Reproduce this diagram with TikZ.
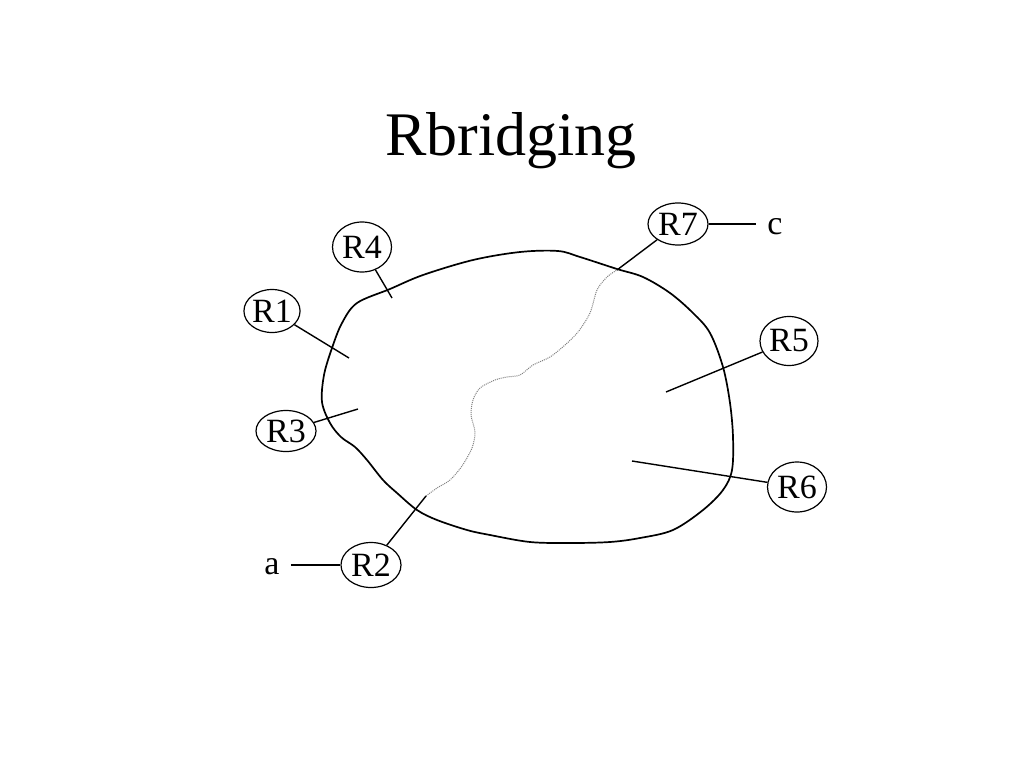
\documentclass[tikz,border=0pt]{standalone}
\usepackage{fontspec}
\setmainfont{Liberation Serif}
\usetikzlibrary{shapes.geometric}
\begin{document}
\begin{tikzpicture}[x=1pt,y=-1pt,
  router/.style={ellipse,draw,line width=1.2pt,inner sep=0pt,font=\fontsize{34}{38}\selectfont},
  endlabel/.style={inner xsep=11pt,inner ysep=0pt,font=\fontsize{34}{38}\selectfont},
  link/.style={line width=1.4pt},
  region/.style={line width=1.7pt},
  bridge/.style={gray,line width=1pt,dash pattern=on 1pt off 1pt}]
\useasboundingbox[fill=white] (0,0) rectangle (1024,768);
\node[anchor=base,font=\fontsize{62}{70}\selectfont] (title) at (511,155) {Rbridging};
% campus outline
\draw[region] plot[smooth cycle,tension=0.55] coordinates {
 (357,303) (390,289) (423,275) (473,260) (520,252) (558,251) (580,257)
 (617,269) (643,277) (670,293) (693,313) (710,333) (723,367) (730,403)
 (733,437) (732,470) (723,490) (703,510) (673,530) (640,538) (610,542)
 (570,543) (530,542) (490,535) (467,530) (437,520) (417,510) (397,493)
 (383,480) (367,460) (355,447) (341,437) (330,423) (322,402) (324,375)
 (332,348) (342,323)};
% bridging path
\draw[bridge] plot[smooth,tension=0.5] coordinates {
 (426,496) (437,488) (450,480) (462,466) (472,448) (475,432) (471,415)
 (473,400) (480,388) (495,380) (507,377) (520,375) (533,365) (550,357)
 (565,345) (578,332) (590,313) (597,290) (607,277) (617,270)};
% routers
\node[router,minimum width=59pt,minimum height=50pt] (R4) at (362,247) {R4};
\node[router,minimum width=51pt,minimum height=43pt] (R1) at (272,311) {R1};
\node[router,minimum width=60pt,minimum height=41pt] (R3) at (286,431) {R3};
\node[router,minimum width=60pt,minimum height=45pt] (R2) at (371,565) {R2};
\node[router,minimum width=60pt,minimum height=42pt] (R7) at (678,224) {R7};
\node[router,minimum width=58pt,minimum height=49pt] (R5) at (789,341) {R5};
\node[router,minimum width=59pt,minimum height=50pt] (R6) at (797,487) {R6};
\node[endlabel,anchor=base] (a) at (272,574) {a};
\node[endlabel,anchor=base] (c) at (775,234) {c};
% inner ends
\coordinate (p4) at (392,298);
\coordinate (p1) at (349,358);
\coordinate (p3) at (358,409);
\coordinate (p2) at (426,496);
\coordinate (p7) at (617,270);
\coordinate (p5) at (666,392);
\coordinate (p6) at (632,461);
\draw[link] (R4) -- (p4);
\draw[link] (R1) -- (p1);
\draw[link] (R3) -- (p3);
\draw[link] (R2) -- (p2);
\draw[link] (R7) -- (p7);
\draw[link] (R5) -- (p5);
\draw[link] (R6) -- (p6);
\draw[link] (a.east |- R2.west) -- (R2.west);
\draw[link] (R7.east) -- (R7.east -| c.west);
\end{tikzpicture}
\end{document}
